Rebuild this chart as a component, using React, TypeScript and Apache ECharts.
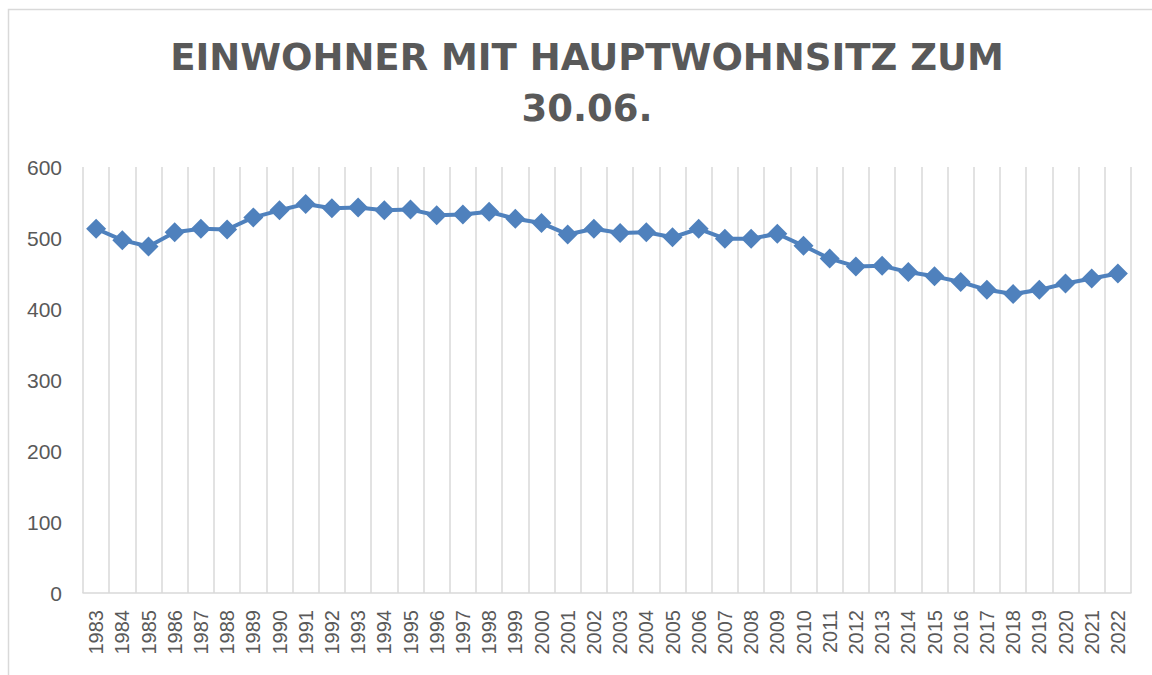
import React, { useEffect, useRef } from "react";
import * as echarts from "echarts";

const years: string[] = [
  "1983", "1984", "1985", "1986", "1987", "1988", "1989", "1990", "1991", "1992",
  "1993", "1994", "1995", "1996", "1997", "1998", "1999", "2000", "2001", "2002",
  "2003", "2004", "2005", "2006", "2007", "2008", "2009", "2010", "2011", "2012",
  "2013", "2014", "2015", "2016", "2017", "2018", "2019", "2020", "2021", "2022",
];

const einwohner: number[] = [
  513, 497, 488, 508, 513, 512, 529, 539, 548, 542,
  543, 539, 540, 532, 533, 537, 527, 521, 505, 513,
  507, 508, 501, 513, 499, 499, 506, 489, 471, 460,
  461, 452, 446, 438, 427, 421, 427, 436, 443, 450,
];

const titleLines: string[] = ["EINWOHNER MIT HAUPTWOHNSITZ ZUM", "30.06."];

export default function App() {
  const ref = useRef<HTMLDivElement>(null);

  useEffect(() => {
    if (!ref.current) return;
    const chart = echarts.init(ref.current, undefined, { renderer: "svg" });
    chart.setOption({
      animation: false,
      backgroundColor: "#ffffff",
      title: {
        text: titleLines.join("\n"),
        top: 27,
        left: 582,
        textAlign: "center",
        textStyle: {
          fontFamily: "DejaVu Sans",
          fontWeight: "bold",
          fontSize: 37,
          lineHeight: 51,
          color: "#595959",
        },
      },
      graphic: [
        {
          type: "rect",
          shape: { x: 8.5, y: 9.5, width: 1300, height: 800 },
          style: { fill: "none", stroke: "#d9d9d9", lineWidth: 1.5 },
          silent: true,
          z: -10,
        },
      ],
      grid: { left: 83, right: 21, top: 167, bottom: 82, containLabel: false },
      xAxis: {
        type: "category",
        data: years,
        boundaryGap: true,
        axisLine: { show: true, lineStyle: { color: "#d9d9d9", width: 1.5 } },
        axisTick: { show: false },
        splitLine: { show: true, lineStyle: { color: "#d9d9d9", width: 1.5 } },
        axisLabel: {
          interval: 0,
          rotate: 90,
          margin: 17,
          color: "#595959",
          fontFamily: "Liberation Sans",
          fontSize: 20,
        },
      },
      yAxis: {
        type: "value",
        min: 0,
        max: 600,
        interval: 100,
        axisLine: { show: false },
        axisTick: { show: false },
        splitLine: { show: false },
        axisLabel: {
          margin: 21,
          color: "#595959",
          fontFamily: "Liberation Sans",
          fontSize: 21,
        },
      },
      series: [
        {
          type: "line",
          data: einwohner,
          symbol: "diamond",
          symbolSize: 20,
          lineStyle: { color: "#4f81bd", width: 4 },
          itemStyle: { color: "#4f81bd" },
        },
      ],
    });
    return () => chart.dispose();
  }, []);

  return (
    <div
      ref={ref}
      style={{ position: "absolute", left: 0, top: 0, width: 1152, height: 675 }}
    />
  );
}
